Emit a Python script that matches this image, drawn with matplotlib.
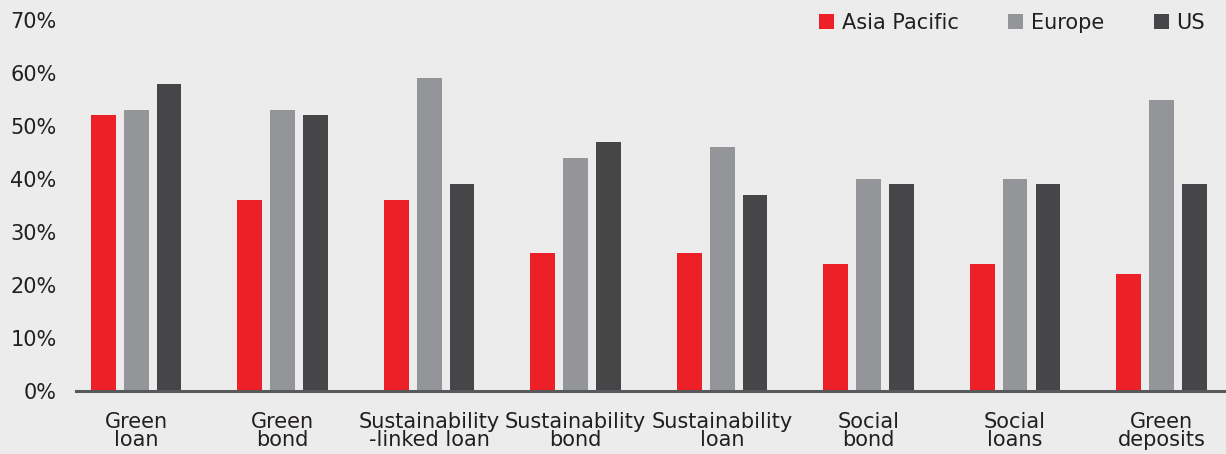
import numpy as np
import matplotlib.pyplot as plt

plt.rcParams['font.family'] = ['DejaVu Sans']

# %%
categories = ["Green\nloan", "Green\nbond", "Sustainability\n-linked loan", "Sustainability\nbond",
              "Sustainability\nloan", "Social\nbond", "Social\nloans", "Green\ndeposits"]
asia_pacific = [52, 36, 36, 26, 26, 24, 24, 22]
europe = [53, 53, 59, 44, 46, 40, 40, 55]
us = [58, 52, 39, 47, 37, 39, 39, 39]
series_names = ["Asia Pacific", "Europe", "US"]
yticks = [0, 10, 20, 30, 40, 50, 60, 70]

colors = ["#ED1F27", "#939598", "#464648"]
bg = "#ECECEC"

# =====================
# plot
# =====================
fig = plt.figure(figsize=(12.26, 4.54), dpi=100, facecolor=bg)
ax = fig.add_axes([76 / 1226, 1 - 391 / 454, 1 - 76 / 1226, (391 - 20) / 454])
ax.set_facecolor(bg)

x = np.arange(len(categories))
width = 0.17
offset = 0.225
for k, vals in enumerate([asia_pacific, europe, us]):
    ax.bar(x + (k - 1) * offset, vals, width, color=colors[k], label=series_names[k], zorder=2)

ax.set_xlim(-0.41, 7.44)
ax.set_ylim(0, 70)
ax.set_yticks(yticks)
ax.set_yticklabels([f"{v}%" for v in yticks], fontsize=15, color="#231F20")
ax.set_xticks(x)
ax.set_xticklabels(categories, fontsize=15, color="#231F20", linespacing=0.9)
ax.tick_params(axis='both', length=0)
ax.tick_params(axis='y', pad=14)
ax.tick_params(axis='x', pad=15)

for s in ['top', 'right', 'left']:
    ax.spines[s].set_visible(False)
ax.spines['bottom'].set_color("#58595B")
ax.spines['bottom'].set_linewidth(2.2)
ax.spines['bottom'].set_zorder(3)

leg = ax.legend(loc='upper right', bbox_to_anchor=(0.998, 1.07), ncol=3, frameon=False,
                fontsize=15, handlelength=0.72, handleheight=0.72, handletextpad=0.35,
                columnspacing=2.4, labelcolor="#231F20")

fig.savefig('out.png', dpi=100, facecolor=bg)
